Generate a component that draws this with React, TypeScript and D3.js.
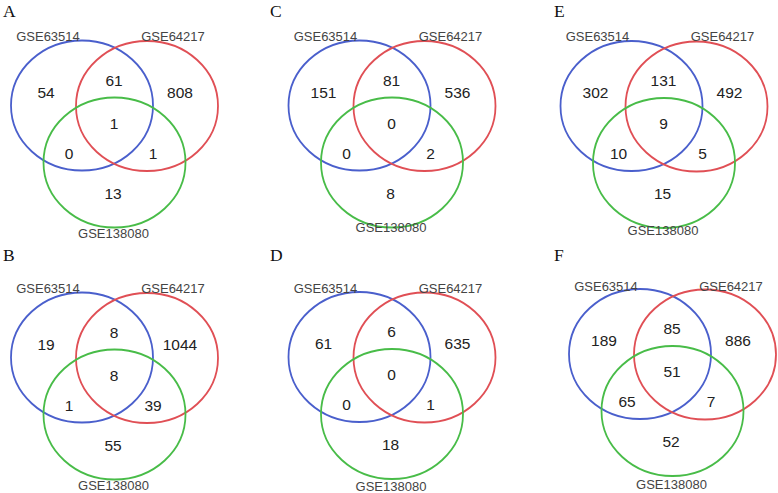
import React from "react";
import * as d3 from "d3";

const panelLetters = ["A", "B", "C", "D", "E", "F"];
const setNames = ["GSE63514", "GSE64217", "GSE138080"];
const only63514 = [54, 19, 151, 61, 302, 189];
const only64217 = [808, 1044, 536, 635, 492, 886];
const only138080 = [13, 55, 8, 18, 15, 52];
const both63514_64217 = [61, 8, 81, 6, 131, 85];
const both63514_138080 = [0, 1, 0, 0, 10, 65];
const both64217_138080 = [1, 39, 2, 1, 5, 7];
const allThree = [1, 8, 0, 0, 9, 51];

// layout: blue circle centre per panel
const centers: [number, number][] = [
  [82, 105.5],
  [82, 357.5],
  [359.5, 105.5],
  [359.5, 357],
  [631.5, 106],
  [640, 354],
];
const letterPos: [number, number][] = [
  [3, 16.5],
  [3, 261],
  [270, 16.5],
  [270, 261],
  [554, 16.5],
  [554, 261],
];
const topLabelY = [36, 288.5, 36, 288.5, 36, 286.5];
const bottomLabelY = [233, 485, 227.5, 486, 230, 484];

const colors = ["#4a5fcc", "#e04f55", "#48bc48"];

export default function App() {
  const W = 778;
  const H = 493;
  const rx = 71;
  const ry = 65;
  const circleOffsets: [number, number][] = [
    [0, 0],
    [65, 0.5],
    [32.5, 57],
  ];
  const fmt = d3.format("d");
  return (
    <svg
      width={W}
      height={H}
      style={{ position: "absolute", left: 0, top: 0, background: "#fff" }}
    >
      {panelLetters.map((L, i) => {
        const [cx, cy] = centers[i];
        const regions: [number, number, number][] = [
          [only63514[i], -36, -13.5],
          [both63514_64217[i], 32, -25.5],
          [only64217[i], 98, -13.5],
          [allThree[i], 32, 17.5],
          [both63514_138080[i], -13, 47.5],
          [both64217_138080[i], 71, 47.5],
          [only138080[i], 31, 87.5],
        ];
        return (
          <g key={L}>
            <text
              x={letterPos[i][0]}
              y={letterPos[i][1]}
              fontFamily="'Liberation Serif', 'Times New Roman', serif"
              fontSize={17.5}
              fill="#111"
            >
              {L}
            </text>
            {circleOffsets.map(([dx, dy], k) => (
              <ellipse
                key={k}
                cx={cx + dx}
                cy={cy + dy}
                rx={rx}
                ry={ry}
                fill="none"
                stroke={colors[k]}
                strokeWidth={1.8}
              />
            ))}
            <g
              fontFamily="'Liberation Sans', Arial, Helvetica, sans-serif"
              fontSize={13}
              fill="#444"
              textAnchor="middle"
              dominantBaseline="central"
            >
              <text x={cx - 34} y={topLabelY[i]}>{setNames[0]}</text>
              <text x={cx + 91} y={topLabelY[i]}>{setNames[1]}</text>
              <text x={cx + 31.5} y={bottomLabelY[i]}>{setNames[2]}</text>
            </g>
            <g
              fontFamily="'Liberation Sans', Arial, Helvetica, sans-serif"
              fontSize={15.5}
              fill="#222"
              textAnchor="middle"
              dominantBaseline="central"
            >
              {regions.map(([v, dx, dy], k) => (
                <text key={k} x={cx + dx} y={cy + dy}>
                  {fmt(v)}
                </text>
              ))}
            </g>
          </g>
        );
      })}
    </svg>
  );
}
